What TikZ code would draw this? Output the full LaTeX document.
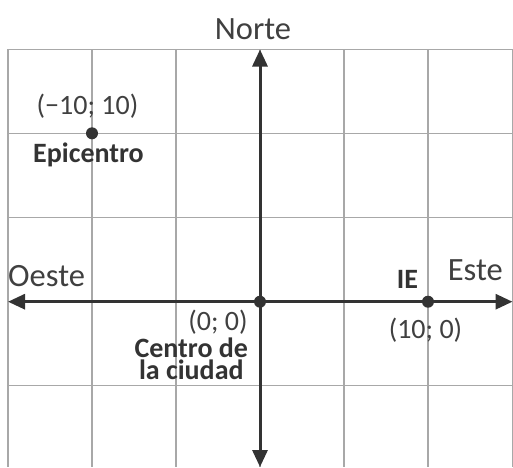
\documentclass[tikz,border=0pt]{standalone}
\usepackage{fontspec}
\setmainfont{Carlito}
\usetikzlibrary{arrows.meta}
\definecolor{ink}{HTML}{333333}
\definecolor{lite}{HTML}{404040}
\definecolor{gridc}{HTML}{A8A8A8}
\begin{document}
\begin{tikzpicture}[x=1pt,y=-1pt,
  gridline/.style={draw=gridc,line width=1.5pt},
  axisline/.style={draw=ink,line width=3pt,{Triangle[length=17pt,width=15pt]}-{Triangle[length=17pt,width=15pt]}},
  dot/.style={circle,fill=ink,inner sep=0pt,minimum size=12pt},
  dirlabel/.style={text=lite,font=\fontsize{32.5}{36}\selectfont,inner sep=0pt},
  coordlabel/.style={text=lite,font=\fontsize{28}{32}\selectfont,inner sep=0pt},
  namelabel/.style={text=ink,font=\bfseries\fontsize{28}{22}\selectfont,inner sep=0pt}]
\useasboundingbox (0,0) rectangle (513,467);
\fill[white] (0,0) rectangle (513,467);
% grid
\foreach \gx in {8,92,176,260,344,428,512.3}
  \draw[gridline] (\gx,49.3) -- (\gx,467);
\foreach \gy in {49.3,133.3,217.3,385.7}
  \draw[gridline] (8,\gy) -- (512.3,\gy);
% axes
\coordinate (wend) at (8,301.7);
\coordinate (eend) at (512.5,301.7);
\coordinate (nend) at (260,49.5);
\coordinate (send) at (260,467);
\draw[axisline] (wend) -- (eend);
\draw[axisline] (send) -- (nend);
% points
\node[dot] (origin) at (260,301.7) {};
\node[dot] (ie) at (428,301.7) {};
\node[dot] (epi) at (92,133.3) {};
% labels
\node[dirlabel,anchor=base] (norte) at (253,39) {Norte};
\node[dirlabel,anchor=base west] (oeste) at (8,286) {Oeste};
\node[dirlabel,anchor=base east] (este) at (503,280) {Este};
\node[coordlabel,anchor=base] (epicoord) at (87.5,114) {(−10; 10)};
\node[namelabel,anchor=base] (epiname) at (88.5,162) {Epicentro};
\node[namelabel,anchor=base] (iename) at (407.5,288) {IE};
\node[coordlabel,anchor=base] (origcoord) at (218,330) {(0; 0)};
\node[coordlabel,anchor=base] (iecoord) at (425.5,338) {(10; 0)};
\node[namelabel,align=center,anchor=base] (centro) at (191.3,379) {Centro de\\la ciudad};
\end{tikzpicture}
\end{document}
